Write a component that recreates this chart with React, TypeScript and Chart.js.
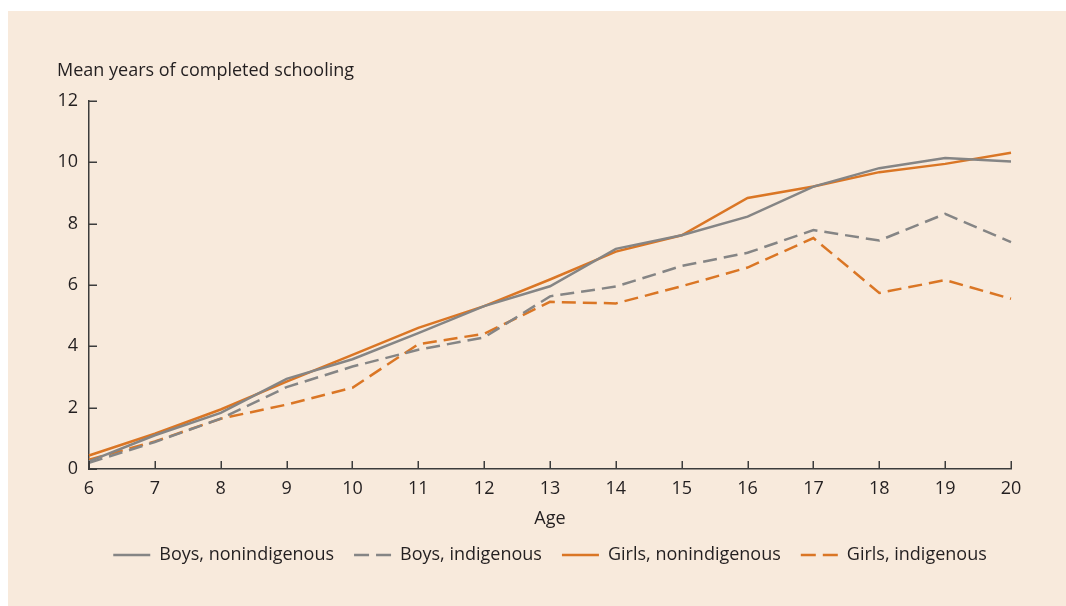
import React, { useEffect, useRef } from "react";
import { Chart, registerables } from "chart.js";

Chart.register(...registerables);

// ---- data ----
const ages = ["6", "7", "8", "9", "10", "11", "12", "13", "14", "15", "16", "17", "18", "19", "20"];
const boysNonIndigenous = [0.25, 1.1, 1.83, 2.94, 3.58, 4.43, 5.31, 5.96, 7.18, 7.62, 8.23, 9.21, 9.81, 10.14, 10.03];
const boysIndigenous = [0.2, 0.88, 1.64, 2.67, 3.34, 3.89, 4.29, 5.63, 5.95, 6.62, 7.05, 7.79, 7.45, 8.32, 7.4];
const girlsNonIndigenous = [0.44, 1.15, 1.94, 2.85, 3.72, 4.6, 5.31, 6.18, 7.09, 7.62, 8.84, 9.21, 9.68, 9.95, 10.31];
const girlsIndigenous = [0.3, 0.9, 1.64, 2.1, 2.65, 4.07, 4.41, 5.45, 5.4, 5.96, 6.57, 7.53, 5.74, 6.16, 5.55];
const seriesLabels = ["Boys, nonindigenous", "Boys, indigenous", "Girls, nonindigenous", "Girls, indigenous"];
const yMin = 0;
const yMax = 12;
const yStep = 2;
const yTitle = "Mean years of completed schooling";
const xTitle = "Age";

// ---- style ----
const FONT = "'Open Sans', sans-serif";
const TEXT = "#231f20";
const GRAY = "#858585";
const ORANGE = "#da7625";
const AXIS = "#3c3c3c";
const PANEL = "#f8eadc";
const DASH = [14, 7];

const inwardTicks = {
  id: "inwardTicks",
  afterDraw(chart: any) {
    const { ctx, chartArea, scales } = chart;
    const xs = scales.x;
    const ys = scales.y;
    ctx.save();
    ctx.strokeStyle = AXIS;
    ctx.lineWidth = 1.5;
    ctx.beginPath();
    ys.ticks.forEach((_t: any, i: number) => {
      const py = Math.round(ys.getPixelForTick(i)) + 0.25;
      ctx.moveTo(chartArea.left, py);
      ctx.lineTo(chartArea.left + 8, py);
    });
    xs.ticks.forEach((_t: any, i: number) => {
      const px = Math.round(xs.getPixelForTick(i)) + 0.25;
      ctx.moveTo(px, chartArea.bottom);
      ctx.lineTo(px, chartArea.bottom - 8);
    });
    ctx.stroke();
    ctx.fillStyle = TEXT;
    ctx.font = `18px ${FONT}`;
    ctx.textAlign = "left";
    ctx.textBaseline = "alphabetic";
    ctx.fillText(yTitle, chartArea.left - 32, chartArea.top - 25);
    ctx.restore();
  },
};

export default function App() {
  const ref = useRef<HTMLCanvasElement | null>(null);

  useEffect(() => {
    if (!ref.current) return;
    const mk = (label: string, data: number[], color: string, dashed: boolean) => ({
      label,
      data,
      borderColor: color,
      backgroundColor: color,
      borderWidth: 2.5,
      borderDash: dashed ? DASH : [],
      pointRadius: 0,
      pointHoverRadius: 0,
      tension: 0,
      fill: false,
    });
    const chart = new Chart(ref.current, {
      type: "line",
      data: {
        labels: ages,
        datasets: [
          mk(seriesLabels[0], boysNonIndigenous, GRAY, false),
          mk(seriesLabels[1], boysIndigenous, GRAY, true),
          mk(seriesLabels[2], girlsNonIndigenous, ORANGE, false),
          mk(seriesLabels[3], girlsIndigenous, ORANGE, true),
        ],
      },
      options: {
        animation: false,
        responsive: false,
        devicePixelRatio: 1,
        layout: { padding: { left: 8, right: 55, top: 101, bottom: 32 } },
        plugins: {
          tooltip: { enabled: false },
          title: { display: false },
          legend: {
            position: "bottom",
            fullSize: false,
            labels: {
              usePointStyle: true,
              pointStyle: "line",
              pointStyleWidth: 37,
              padding: 20,
              color: TEXT,
              font: { family: FONT, size: 18 },
              generateLabels: (c: any) =>
                c.data.datasets.map((ds: any, i: number) => ({
                  text: ds.label,
                  fillStyle: ds.borderColor,
                  strokeStyle: ds.borderColor,
                  lineWidth: 2.5,
                  lineDash: ds.borderDash && ds.borderDash.length ? [15, 7] : [],
                  pointStyle: "line",
                  fontColor: TEXT,
                  hidden: false,
                  datasetIndex: i,
                })),
            },
          },
        },
        scales: {
          x: {
            type: "category",
            offset: false,
            grid: { display: false, drawTicks: false },
            border: { display: true, color: AXIS, width: 1.5 },
            ticks: { color: TEXT, font: { family: FONT, size: 18 }, padding: 9, maxRotation: 0, autoSkip: false },
            title: {
              display: true,
              text: xTitle,
              color: TEXT,
              font: { family: FONT, size: 18, lineHeight: 1 },
              padding: { top: 0, bottom: -2 },
            },
            afterFit: (s: any) => {
              s.height = 57;
            },
          },
          y: {
            min: yMin,
            max: yMax,
            grid: { display: false, drawTicks: false },
            border: { display: true, color: AXIS, width: 1.5 },
            ticks: { stepSize: yStep, color: TEXT, font: { family: FONT, size: 18 }, padding: 11 },
            afterFit: (s: any) => {
              s.width = 81;
            },
          },
        },
      },
      plugins: [inwardTicks],
    } as any);
    return () => chart.destroy();
  }, []);

  return (
    <div style={{ position: "absolute", left: 0, top: 0, width: 1066, height: 606, overflow: "hidden" }}>
      <div style={{ position: "absolute", left: 8, top: 11, right: 0, bottom: 0, background: PANEL }} />
      <canvas ref={ref} width={1066} height={606} style={{ position: "absolute", left: 0, top: 0, width: 1066, height: 606 }} />
    </div>
  );
}
